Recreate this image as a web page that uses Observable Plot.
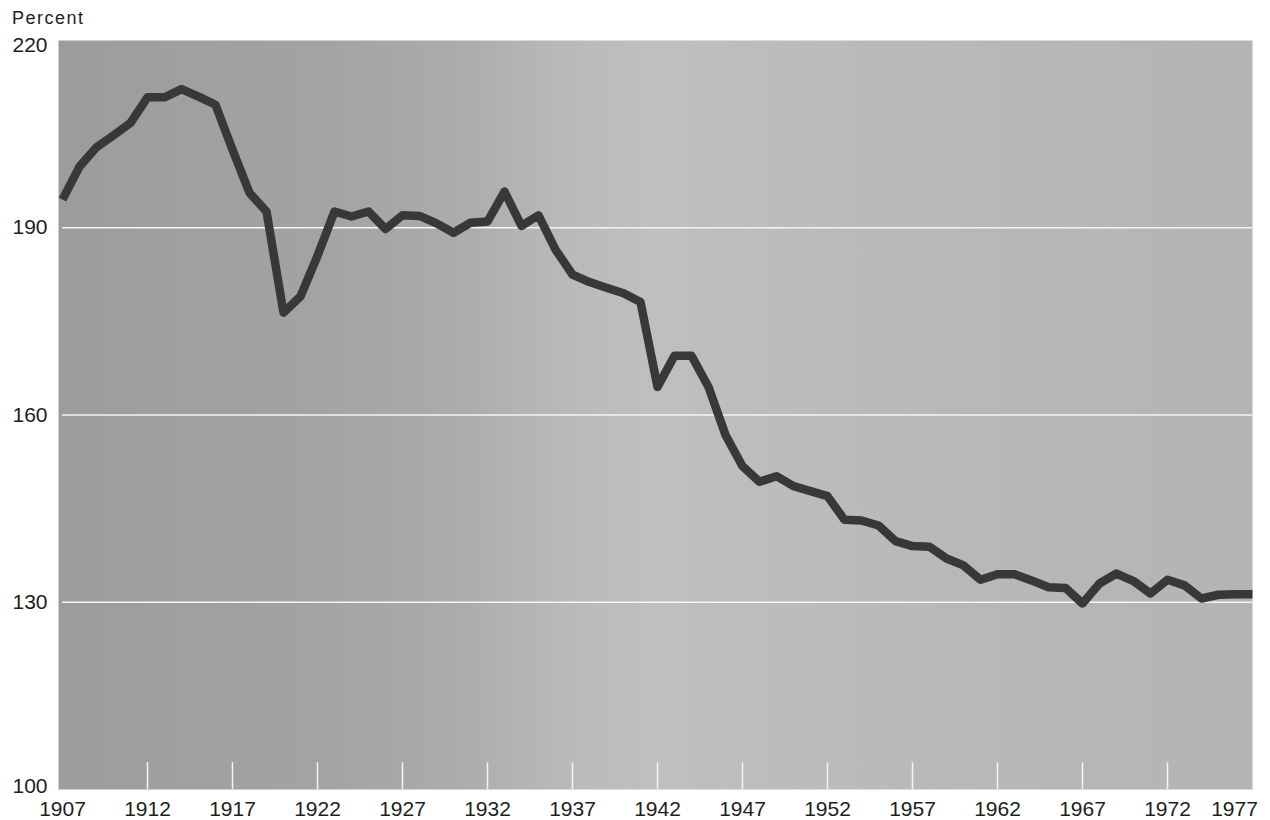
<!DOCTYPE html>
<html>
<head>
<meta charset="utf-8">
<script src="https://cdn.jsdelivr.net/npm/d3@7"></script>
<script src="https://cdn.jsdelivr.net/npm/@observablehq/plot@0.6"></script>
<style>
  html, body { margin: 0; padding: 0; background: #fff; }
  #unit { height: 30px; box-sizing: border-box; padding: 8px 0 0 12px; font: 18px "Liberation Sans", Arial, sans-serif; letter-spacing: 1.5px; color: #222; line-height: 1.15; }
  #chart svg { display: block; overflow: visible; }
  #chart svg text { font-size: 21px !important; font-family: "Liberation Sans", Arial, sans-serif; fill: #1e1e1e; }
</style>
</head>
<body>
<div id="unit">Percent</div>
<div id="chart"></div>
<script>
const years = d3.range(1907, 1978);
const values = [
  194.5, 199.8, 202.9, 204.8, 206.8, 210.9, 210.9, 212.2, 211.0, 209.7,
  202.5, 195.6, 192.6, 176.4, 179.0, 185.5, 192.6, 191.8, 192.6, 189.8,
  192.0, 191.9, 190.7, 189.2, 190.8, 191.0, 195.8, 190.3, 192.0, 186.5,
  182.5, 181.3, 180.4, 179.5, 178.1, 164.5, 169.5, 169.5, 164.5, 156.8,
  151.8, 149.3, 150.2, 148.6, 147.8, 147.0, 143.2, 143.1, 142.3, 139.8,
  139.0, 138.9, 137.0, 135.9, 133.6, 134.5, 134.5, 133.5, 132.4, 132.3,
  129.8, 133.0, 134.6, 133.4, 131.4, 133.6, 132.7, 130.6, 131.2, 131.3,
  131.3
];
const xTickLabels = [1907, 1912, 1917, 1922, 1927, 1932, 1937, 1942, 1947, 1952, 1957, 1962, 1967, 1972];
const xLastLabel = [1977];
const innerTicks = [1912, 1917, 1922, 1927, 1932, 1937, 1942, 1947, 1952, 1957, 1962, 1967, 1972];
const yMidLabels = [130, 160, 190];
const yBottomLabel = [100];
const yTopLabel = [220];
const gridValues = [130, 160, 190];

const data = years.map((y, i) => ({year: y, value: values[i]}));

const font = '"Liberation Sans", Arial, sans-serif';

const chart = Plot.plot({
  width: 1270,
  height: 790,
  marginLeft: 62,
  marginRight: 18,
  marginTop: 10,
  marginBottom: 31,
  style: {fontFamily: font, fontSize: "21px", color: "#1e1e1e", background: "transparent"},
  x: {domain: [1907, 1977]},
  y: {domain: [100, 220]},
  marks: [
    Plot.frame({fill: "url(#bgGrad)", stroke: null, insetLeft: -4}),
    Plot.ruleY(gridValues, {stroke: "#f4f4f4", strokeWidth: 1.6}),
    Plot.ruleX(innerTicks, {x: d => d, y1: 100, y2: 104.3, stroke: "#f4f4f4", strokeWidth: 1.5}),
    Plot.line(data, {x: "year", y: "value", stroke: "#383838", strokeWidth: 8.5, strokeLinejoin: "round", strokeLinecap: "butt"}),
    Plot.axisX(xTickLabels, {tickSize: 0, tickPadding: 12, tickFormat: d => String(d), fontSize: 21, label: null}),
    Plot.axisX(xLastLabel, {tickSize: 0, tickPadding: 12, tickFormat: d => String(d), fontSize: 21, dx: -18, label: null}),
    Plot.axisY(yMidLabels, {tickSize: 0, tickPadding: 15, tickFormat: d => String(d), fontSize: 21, label: null}),
    Plot.axisY(yBottomLabel, {tickSize: 0, tickPadding: 15, tickFormat: d => String(d), fontSize: 21, dy: -3, label: null}),
    Plot.axisY(yTopLabel, {tickSize: 0, tickPadding: 15, tickFormat: d => String(d), fontSize: 21, dy: 5, label: null})
  ]
});

const defs = d3.select(chart).insert("defs", ":first-child");
const grad = defs.append("linearGradient").attr("id", "bgGrad").attr("x1", "0").attr("x2", "1").attr("y1", "0").attr("y2", "0");
[[0, "#9c9c9c"], [0.22, "#a3a3a3"], [0.34, "#acacac"], [0.42, "#b9b9b9"], [0.5, "#bfbfbf"], [0.6, "#bcbcbc"], [0.8, "#b7b7b7"], [1, "#b4b4b4"]]
  .forEach(([o, c]) => grad.append("stop").attr("offset", o).attr("stop-color", c));

document.getElementById("chart").appendChild(chart);
</script>
</body>
</html>
